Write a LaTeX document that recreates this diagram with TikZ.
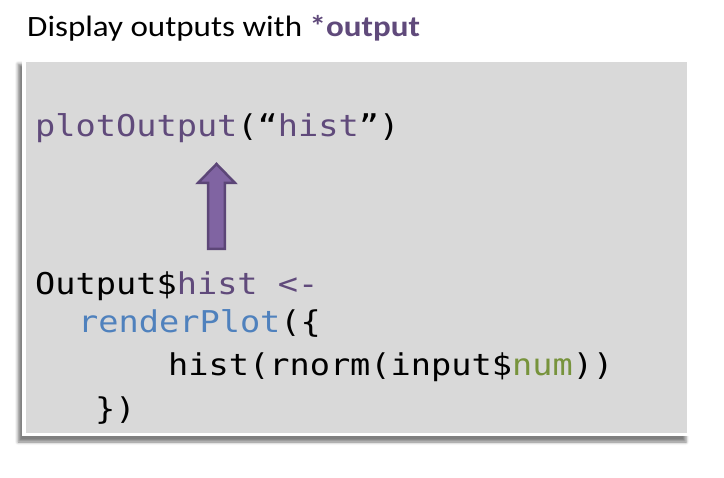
\documentclass[tikz,border=0pt]{standalone}
\usepackage{fontspec}
\setmainfont{Carlito}[FakeStretch=1.12]
\newfontfamily\codefont[FakeStretch=1.12]{DejaVu Sans Mono}
\usetikzlibrary{calc,shadows.blur}

\definecolor{rpurple}{HTML}{604A7B}
\definecolor{rblue}{HTML}{4F81BD}
\definecolor{rgreen}{HTML}{77933C}
\definecolor{arrowfill}{HTML}{8064A2}
\definecolor{arrowedge}{HTML}{5C4677}
\definecolor{boxgray}{HTML}{D9D9D9}

\begin{document}
\begin{tikzpicture}[x=1pt,y=-1pt,
    codeline/.style={anchor=base west, inner sep=0pt, font=\codefont\fontsize{30}{36}\selectfont},
    blockarrow/.style={draw=arrowedge, fill=arrowfill, line width=2.5pt}]
                \useasboundingbox (0,0) rectangle (724,478);

                % title above the slide box
                \node [anchor=base west, inner sep=0pt, font=\fontsize{29.5}{35}\selectfont] (title) at (27,37)
                    {Display outputs with \textcolor{rpurple}{\textbf{*output}}};

                % white frame with shadow, grey panel inside
                \fill[white, blur shadow={shadow xshift=-4pt, shadow yshift=-6pt, shadow blur radius=3pt, shadow opacity=50}]
                    (22,58) rectangle (690,436);
                \fill[boxgray] (26,62) rectangle (687,433);

                \node [codeline] (plot) at (35,137) {\textcolor{rpurple}{plotOutput}(“\textcolor{rpurple}{hist}”)};
                \node [codeline] (outhist) at (35,295) {Output\$\textcolor{rpurple}{hist <-}};
                \node [codeline] (render) at (78,333) {\textcolor{rblue}{renderPlot}(\{};
                \node [codeline] (histcall) at (168,376) {hist(rnorm(input\$\textcolor{rgreen}{num}))};
                \node [codeline] (close) at (95,420) {\})};

                \coordinate (arrowbase) at (216.5,248.8);
                \coordinate (arrowtip) at (216.5,164);

                % Draw a block arrow from base #1 up to tip #2
                \def\drawBlockArrow#1#2{
                    \draw[blockarrow] ($(#1)+(-8.3,0)$) -- ($(#2)+(-8.3,19)$) -- ($(#2)+(-18.5,19)$) -- (#2)
                        -- ($(#2)+(18.5,19)$) -- ($(#2)+(8.3,19)$) -- ($(#1)+(8.3,0)$) -- cycle;
                }

                \drawBlockArrow{arrowbase}{arrowtip}
            \end{tikzpicture}
\end{document}
